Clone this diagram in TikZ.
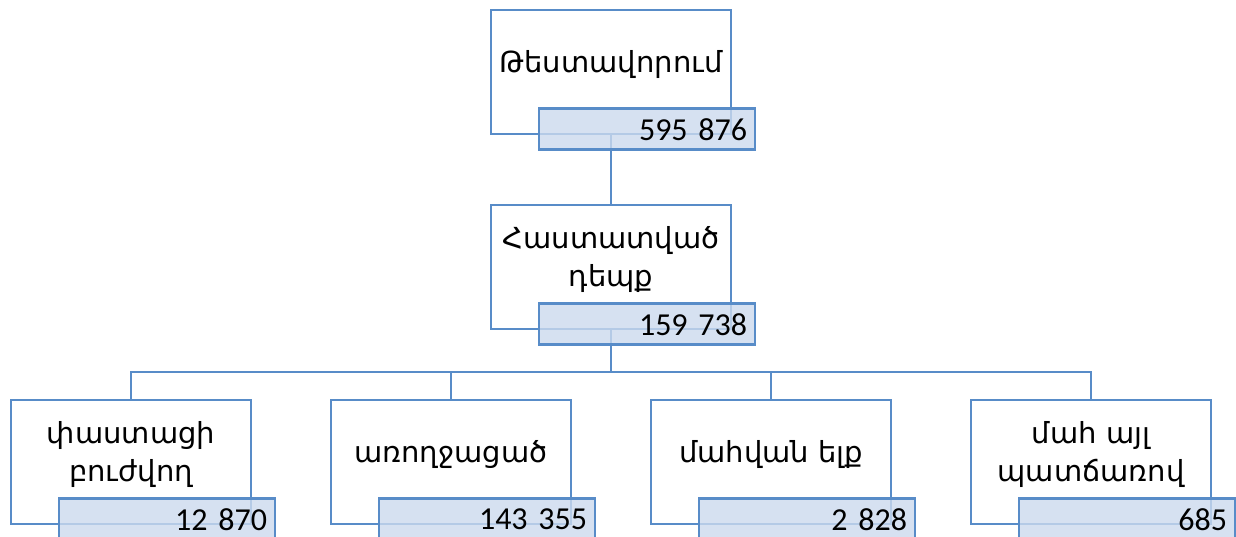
\documentclass[tikz,border=0pt]{standalone}
\usepackage{fontspec}
\setmainfont{DejaVu Sans}
\newfontfamily\chiffres{Carlito}
\usetikzlibrary{positioning}
\definecolor{bordbleu}{RGB}{88,140,200}
\definecolor{fondbleu}{RGB}{204,218,238}

\begin{document}
\begin{tikzpicture}[x=1pt,y=-1pt]
	\tikzstyle{lien}=[draw=bordbleu,line width=2.8pt]
	\tikzstyle{boite}=[draw=bordbleu,line width=2.8pt,fill=white,minimum width=240pt,minimum height=124pt,inner sep=0pt]
	\tikzstyle{texte}=[align=center,font=\fontsize{29}{38}\selectfont,yshift=8pt]
	\tikzstyle{nombre}=[draw=bordbleu,line width=2.8pt,fill=fondbleu,fill opacity=0.8,text opacity=1,minimum height=41pt,inner xsep=8pt,text width=200pt,align=right,anchor=north west,font=\chiffres\fontsize{32}{32}\selectfont]
	
	\def\Milieu{611}
	\def\NiveauA{72}
	\def\NiveauB{267}
	\def\NiveauC{462}
	\def\Bus{372}
	\def\PasX{320}
	
	\clip (0,0) rectangle (1236,536);
	
	\node[boite] (test) at (\Milieu,\NiveauA) {};
	\node[boite] (hast) at (\Milieu,\NiveauB) {};
	\node[boite] (buj) at ({131+0*\PasX},\NiveauC) {};
	\node[boite] (arog) at ({131+1*\PasX},\NiveauC) {};
	\node[boite] (mah) at ({131+2*\PasX},\NiveauC) {};
	\node[boite] (ayl) at ({131+3*\PasX},\NiveauC) {};
	
	\coordinate (bus) at (\Milieu,\Bus);
	\draw[lien] (test.south)--(hast.north);
	\foreach \f in {buj,arog,mah,ayl}
		\draw[lien] (hast.south)--(bus)-|(\f.north);
	
	\node[nombre] (testN) at ([xshift=48pt,yshift=28pt]test.south west) {595 876};
	\node[nombre] (hastN) at ([xshift=48pt,yshift=28pt]hast.south west) {159 738};
	\node[nombre] (bujN) at ([xshift=48pt,yshift=28pt]buj.south west) {12 870};
	\node[nombre] (arogN) at ([xshift=48pt,yshift=28pt]arog.south west) {143 355};
	\node[nombre] (mahN) at ([xshift=48pt,yshift=28pt]mah.south west) {2 828};
	\node[nombre] (aylN) at ([xshift=48pt,yshift=28pt]ayl.south west) {685};
	
	\node[texte] (testT) at (test) {Թեստավորում};
	\node[texte] (hastT) at (hast) {Հաստատված\\դեպք};
	\node[texte] (bujT) at (buj) {փաստացի\\բուժվող};
	\node[texte] (arogT) at (arog) {առողջացած};
	\node[texte] (mahT) at (mah) {մահվան ելք};
	\node[texte] (aylT) at (ayl) {մահ այլ\\պատճառով};
\end{tikzpicture}
\end{document}
